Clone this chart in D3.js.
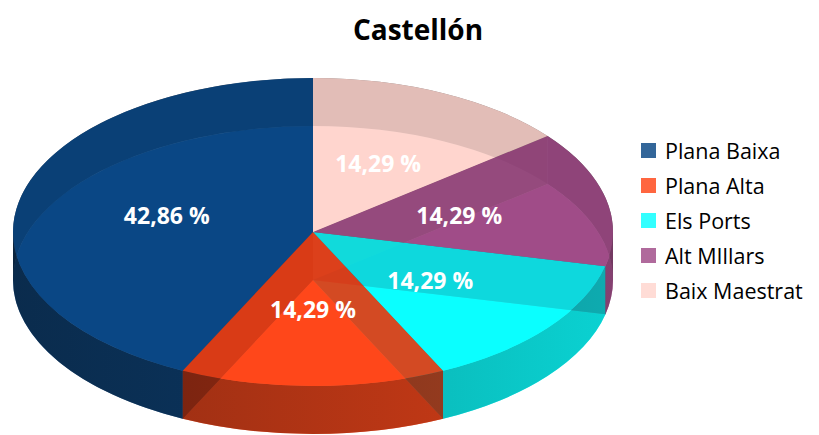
<!DOCTYPE html>
<html lang="es">
<head>
<meta charset="UTF-8">
<title>Castellón</title>
<script src="https://d3js.org/d3.v7.min.js"></script>
<style>
  body { margin: 0; background: #fff; }
  svg { display: block; font-family: "Open Sans", "Noto Sans", sans-serif; }
  .title { font-size: 28px; font-weight: 700; fill: #000; text-anchor: middle; }
  .slice-label { font-size: 23px; font-weight: 700; fill: #fff; text-anchor: middle; dominant-baseline: central; }
  .legend-text { font-size: 21.5px; fill: #000; }
</style>
</head>
<body>
<div id="chart"></div>
<script>
// data
const comarcas = ["Plana Baixa", "Plana Alta", "Els Ports", "Alt MIllars", "Baix Maestrat"];
const percents = [42.86, 14.29, 14.29, 14.29, 14.29];
const palette = ["#004080", "#ff4010", "#00ffff", "#9c4583", "#ffd3cc"];

const W = 819, H = 435;
const cx = 313, cy = 232, rx = 300, ry = 154, depth = 48;
const alpha = 0.8;

const svg = d3.select("#chart").append("svg")
    .attr("width", W).attr("height", H);

const data = comarcas.map((name, i) => ({ name, value: percents[i], color: palette[i] }));

// counter-clockwise from 12 o'clock, like the original
const arcs = d3.pie().sort(null).value(d => d.value)
    .startAngle(0).endAngle(-2 * Math.PI)(data)
    .map(a => ({ ...a, a0: Math.min(a.startAngle, a.endAngle), a1: Math.max(a.startAngle, a.endAngle) }));

function pt(a, dy = 0) {
  return [cx + rx * Math.sin(a), cy - ry * Math.cos(a) + dy];
}
function arcTo(a0, a1, dy, forward) {
  const end = forward ? pt(a1, dy) : pt(a0, dy);
  const large = (a1 - a0) > Math.PI ? 1 : 0;
  return `A${rx},${ry} 0 ${large} ${forward ? 1 : 0} ${end[0]},${end[1]}`;
}
function face(d, dy) {
  const p = pt(d.a0, dy);
  return `M${cx},${cy + dy}L${p[0]},${p[1]}${arcTo(d.a0, d.a1, dy, true)}Z`;
}
function outerWall(b0, b1) {
  const p0 = pt(b0, 0), p1 = pt(b1, depth);
  return `M${p0[0]},${p0[1]}${arcTo(b0, b1, 0, true)}L${p1[0]},${p1[1]}${arcTo(b0, b1, depth, false)}Z`;
}
function radialWall(a) {
  const p = pt(a, 0), q = pt(a, depth);
  return `M${cx},${cy}L${p[0]},${p[1]}L${q[0]},${q[1]}L${cx},${cy + depth}Z`;
}
function shade(c, k) {
  const r = d3.rgb(c);
  return d3.rgb(r.r * k, r.g * k, r.b * k).formatHex();
}

// split the outer wall into back and front pieces
function wallPieces(d) {
  const cuts = [d.a0];
  let b = Math.ceil((d.a0 - Math.PI / 2) / Math.PI) * Math.PI + Math.PI / 2;
  while (b < d.a1) { if (b > d.a0) cuts.push(b); b += Math.PI; }
  cuts.push(d.a1);
  const out = [];
  for (let i = 0; i < cuts.length - 1; i++) {
    const m = (cuts[i] + cuts[i + 1]) / 2;
    out.push({ b0: cuts[i], b1: cuts[i + 1], back: Math.cos(m) > 0 });
  }
  return out;
}

const defs = svg.append("defs");
arcs.forEach((d, i) => {
  const g = defs.append("linearGradient")
      .attr("id", "wall" + i)
      .attr("gradientUnits", "userSpaceOnUse")
      .attr("x1", cx - rx).attr("x2", cx + rx).attr("y1", 0).attr("y2", 0);
  g.append("stop").attr("offset", 0).attr("stop-color", shade(d.data.color, 0.45));
  g.append("stop").attr("offset", 1).attr("stop-color", shade(d.data.color, 0.78));
});

const pie = svg.append("g");

// bottom faces
pie.selectAll(".bottom").data(arcs).join("path")
    .attr("d", d => face(d, depth))
    .attr("fill", d => d.data.color)
    .attr("fill-opacity", alpha);

// back walls (seen through the top)
const pieces = arcs.flatMap((d, i) => wallPieces(d).map(p => ({ ...p, i, color: d.data.color })));
pie.selectAll(".back").data(pieces.filter(p => p.back)).join("path")
    .attr("d", p => outerWall(p.b0, p.b1))
    .attr("fill", p => shade(p.color, 0.3))
    .attr("fill-opacity", alpha);

// radial walls
const radials = arcs.flatMap(d => [d.a0, d.a1].map(a => ({ a, color: d.data.color })));
pie.selectAll(".radial").data(radials).join("path")
    .attr("d", r => radialWall(r.a))
    .attr("fill", r => shade(r.color, 0.4))
    .attr("fill-opacity", 0.55);

// front walls
pie.selectAll(".front").data(pieces.filter(p => !p.back)).join("path")
    .attr("d", p => outerWall(p.b0, p.b1))
    .attr("fill", p => `url(#wall${p.i})`)
    .attr("fill-opacity", alpha);

// top faces
pie.selectAll(".top").data(arcs).join("path")
    .attr("d", d => face(d, 0))
    .attr("fill", d => d.data.color)
    .attr("fill-opacity", alpha);

// labels
const fmt = v => v.toFixed(2).replace(".", ",") + " %";
pie.selectAll(".slice-label").data(arcs).join("text")
    .attr("class", "slice-label")
    .attr("x", d => pt((d.a0 + d.a1) / 2)[0] * 0.5 + cx * 0.5)
    .attr("y", d => pt((d.a0 + d.a1) / 2)[1] * 0.5 + cy * 0.5)
    .text(d => fmt(d.data.value));

// title
svg.append("text").attr("class", "title")
    .attr("x", 418).attr("y", 40).text("Castellón");

// legend
const legend = svg.append("g").attr("transform", "translate(641,143)");
const rows = legend.selectAll("g").data(data).join("g")
    .attr("transform", (d, i) => `translate(0,${i * 35})`);
rows.append("rect").attr("width", 15).attr("height", 15)
    .attr("fill", d => d.color).attr("fill-opacity", alpha);
rows.append("text").attr("class", "legend-text")
    .attr("x", 24).attr("y", 15.5).text(d => d.name);
</script>
</body>
</html>
